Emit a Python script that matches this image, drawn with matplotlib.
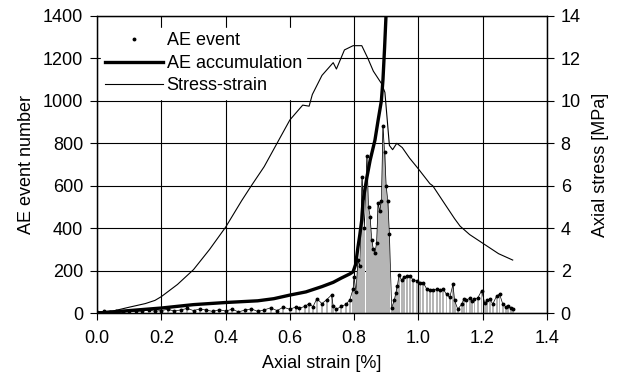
import matplotlib
matplotlib.use("Agg")
import matplotlib.pyplot as plt
from matplotlib.lines import Line2D

plt.rcParams['font.family'] = ['Liberation Sans', 'DejaVu Sans']

# Stress-strain curve (strain %, stress MPa)
stress_strain = [0.00, 0.05, 0.10, 0.15, 0.18, 0.20, 0.25, 0.30, 0.35, 0.40, 0.45, 0.48,
                 0.52, 0.56, 0.60, 0.64, 0.66, 0.67, 0.70, 0.735, 0.745, 0.77, 0.797,
                 0.824, 0.843, 0.86, 0.886, 0.896, 0.91, 0.92, 0.933, 0.95, 0.973, 1.00,
                 1.036, 1.045, 1.08, 1.113, 1.13, 1.16, 1.20, 1.25, 1.294]
stress = [0.05, 0.1, 0.28, 0.45, 0.6, 0.78, 1.35, 2.05, 3.0, 4.05, 5.3, 6.0,
          6.9, 8.0, 9.1, 9.8, 9.75, 10.3, 11.2, 11.8, 11.5, 12.4, 12.6,
          12.6, 12.0, 11.4, 10.8, 10.4, 7.9, 7.7, 8.0, 7.8, 7.3, 6.8,
          6.1, 6.0, 5.2, 4.45, 4.1, 3.7, 3.3, 2.8, 2.5]

# AE accumulation (strain %, count)
acc_strain = [0.00, 0.10, 0.20, 0.30, 0.40, 0.50, 0.55, 0.60, 0.65, 0.70, 0.735, 0.76,
              0.787, 0.797, 0.805, 0.812, 0.818, 0.824, 0.828, 0.84, 0.85, 0.865,
              0.875, 0.885, 0.89, 0.895, 0.90, 0.905]
acc = [0, 12, 24, 40, 50, 58, 68, 85, 100, 125, 145, 165,
       185, 195, 230, 310, 370, 440, 530, 640, 720, 815,
       910, 1000, 1100, 1250, 1420, 1600]

# AE events (strain %, count)
ev_strain = [0.00, 0.02, 0.04, 0.06, 0.08, 0.10, 0.12, 0.14, 0.16, 0.18, 0.20, 0.22,
             0.24, 0.26, 0.28, 0.30, 0.32, 0.34, 0.36, 0.38, 0.40, 0.42, 0.44, 0.46,
             0.48, 0.50, 0.52, 0.54, 0.56, 0.58, 0.60, 0.62,
             0.63, 0.647, 0.66, 0.672, 0.684, 0.70, 0.715, 0.73, 0.735, 0.745, 0.76,
             0.775, 0.787, 0.797, 0.80, 0.806, 0.812, 0.818, 0.825, 0.832, 0.84,
             0.845, 0.85, 0.855, 0.86, 0.865, 0.87, 0.875, 0.88, 0.885, 0.89, 0.895,
             0.90, 0.905, 0.91, 0.917, 0.925, 0.93, 0.935, 0.94, 0.948, 0.955, 0.965,
             0.973, 0.983, 0.995, 1.005, 1.015, 1.027, 1.036, 1.047, 1.058, 1.068,
             1.078, 1.088, 1.098, 1.108, 1.113, 1.123, 1.135, 1.142, 1.15, 1.16,
             1.168, 1.175, 1.185, 1.197, 1.207, 1.215, 1.222, 1.232, 1.244, 1.253,
             1.263, 1.272, 1.28, 1.29, 1.295]
ev = [5, 8, 6, 10, 7, 12, 8, 10, 14, 9, 12, 18,
      10, 15, 22, 12, 20, 14, 8, 16, 10, 18, 6, 14,
      20, 8, 15, 25, 12, 28, 18, 30,
      23, 32, 45, 30, 68, 45, 64, 86, 32, 18, 32,
      41, 64, 114, 168, 100, 250, 220, 640, 400, 740,
      500, 455, 345, 300, 285, 330, 520, 480, 530, 880, 760,
      600, 530, 375, 25, 60, 95, 130, 180, 155, 170, 175,
      177, 158, 153, 144, 144, 112, 107, 110, 112, 108,
      112, 88, 74, 135, 60, 18, 42, 67, 60, 71,
      55, 67, 71, 105, 48, 60, 67, 43, 81, 90,
      43, 30, 33, 24, 19]

x_ticks = [0.0, 0.2, 0.4, 0.6, 0.8, 1.0, 1.2, 1.4]
left_ticks = [0, 200, 400, 600, 800, 1000, 1200, 1400]
right_ticks = [0, 2, 4, 6, 8, 10, 12, 14]

FS = 13

fig = plt.figure(figsize=(6.27, 3.80), dpi=100)
ax = fig.add_axes([0.155, 0.176, 0.717, 0.782])
ax2 = ax.twinx()

ax.set_xlim(0, 1.4)
ax.set_ylim(0, 1400)
ax2.set_ylim(0, 14)

ax.grid(True, color='black', linewidth=0.8)
ax.set_axisbelow(True)

# AE events: stippled gray bars with dotted tops
ax.bar(ev_strain, ev, width=0.0058, color='#b5b5b5', edgecolor='none', zorder=2)
ax.plot(ev_strain, ev, color='black', linewidth=0.5, zorder=3)
ax.plot(ev_strain, ev, linestyle='none', marker='o', markersize=1.8, color='black', zorder=3)

# AE accumulation
ax.plot(acc_strain, acc, color='black', linewidth=2.4, zorder=4)

# Stress-strain on right axis
ax2.plot(stress_strain, stress, color='black', linewidth=0.8, zorder=4)

ax.set_xticks(x_ticks)
ax.set_xticklabels([f"{v:.1f}" for v in x_ticks])
ax.set_yticks(left_ticks)
ax2.set_yticks(right_ticks)

for a in (ax, ax2):
    a.tick_params(direction='out', length=5, width=0.8, labelsize=FS, colors='black', pad=5)
    for s in a.spines.values():
        s.set_linewidth(0.9)
ax.tick_params(axis='x', pad=7)

ax.set_xlabel("Axial strain [%]", fontsize=FS, labelpad=6)
ax.set_ylabel("AE event number", fontsize=FS, labelpad=6)
ax2.set_ylabel("Axial stress [MPa]", fontsize=FS, labelpad=8)

handles = [Line2D([], [], linestyle='none', marker='o', markersize=1.8, color='black'),
           Line2D([], [], color='black', linewidth=2.4),
           Line2D([], [], color='black', linewidth=0.8)]
labels = ["AE event", "AE accumulation", "Stress-strain"]
leg = ax2.legend(handles, labels, loc='upper left', bbox_to_anchor=(0.0, 0.972),
                 frameon=True, fancybox=False, framealpha=1, edgecolor='white',
                 fontsize=FS, handlelength=3.2, handletextpad=0.2,
                 labelspacing=0.3, borderpad=0.25, borderaxespad=0.2)
leg.set_zorder(10)

fig.savefig("out.png", dpi=100)
